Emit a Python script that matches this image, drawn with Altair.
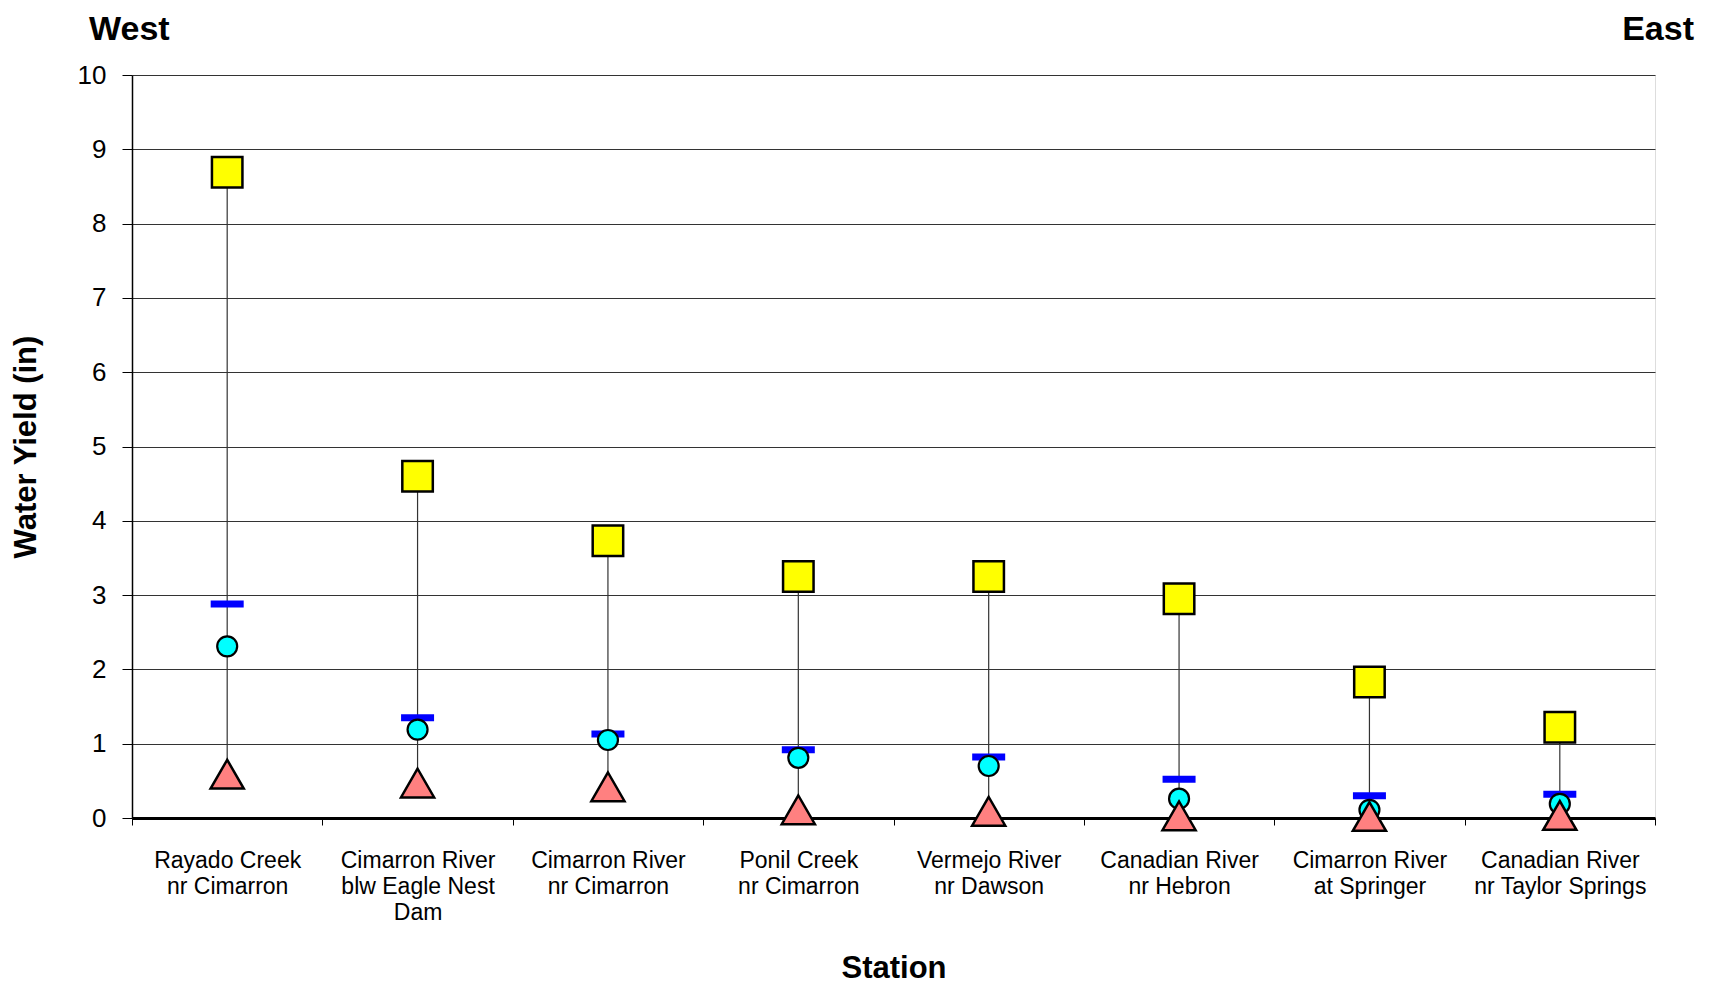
import altair as alt
import pandas as pd

stations = [
    "Rayado Creek|nr Cimarron",
    "Cimarron River|blw Eagle Nest|Dam",
    "Cimarron River|nr Cimarron",
    "Ponil Creek|nr Cimarron",
    "Vermejo River|nr Dawson",
    "Canadian River|nr Hebron",
    "Cimarron River|at Springer",
    "Canadian River|nr Taylor Springs",
]
max_yield = [8.69, 4.60, 3.73, 3.25, 3.25, 2.95, 1.83, 1.22]
mean_yield = [2.88, 1.35, 1.13, 0.92, 0.82, 0.52, 0.30, 0.32]
median_yield = [2.31, 1.19, 1.05, 0.81, 0.70, 0.26, 0.11, 0.19]
min_yield = [0.59, 0.47, 0.42, 0.11, 0.09, 0.03, 0.02, 0.035]
y_ticks = list(range(0, 11))
side_labels = ["West", "East"]

FONT = "Liberation Sans"

df = pd.DataFrame({
    "station": stations,
    "max": max_yield,
    "mean": mean_yield,
    "median": median_yield,
    "min": min_yield,
})

x_enc = alt.X(
    "station:N",
    sort=stations,
    scale=alt.Scale(paddingInner=0, paddingOuter=0),
    axis=alt.Axis(
        title="Station",
        labelAngle=0,
        labelExpr="split(datum.label, '|')",
        tickBand="extent",
        tickSize=7,
        labelPadding=24,
        labelFontSize=23,
        labelLineHeight=26,
        labelColor="black",
        labelFont=FONT,
        titleFont=FONT,
        titleFontSize=31,
        titleFontWeight="bold",
        titlePadding=29,
        titleColor="black",
        domainColor="black",
        domainWidth=3,
        tickColor="black",
        tickWidth=1,
        grid=False,
    ),
)

y_scale = alt.Scale(domain=[0, 10], nice=False)
y_axis = alt.Axis(
    title="Water Yield (in)",
    values=y_ticks,
    format="d",
    tickSize=10,
    labelPadding=16,
    labelFontSize=26,
    labelColor="black",
    labelFont=FONT,
    titleFont=FONT,
    titleFontSize=31,
    titleFontWeight="bold",
    titleColor="black",
    titlePadding=35,
    domainColor="black",
    domainWidth=1.5,
    tickColor="black",
    gridColor="#333333",
    gridWidth=1.2,
    grid=True,
)

base = alt.Chart(df)

rules = base.mark_rule(color="#333333", strokeWidth=1.2).encode(
    x=x_enc,
    y=alt.Y("min:Q", scale=y_scale, axis=y_axis),
    y2="max:Q",
)

ticks = base.mark_tick(color="#0000FF", thickness=7, size=33, orient="horizontal", opacity=1).encode(
    x=alt.X("station:N", sort=stations),
    y=alt.Y("mean:Q"),
)

circles = base.mark_point(
    shape="circle", filled=True, fill="#00FFFF", stroke="black", strokeWidth=2.2, size=400, opacity=1
).encode(x=alt.X("station:N", sort=stations), y=alt.Y("median:Q"))

triangles = base.mark_point(
    shape="triangle-up", filled=True, fill="#FF8080", stroke="black", strokeWidth=2.5, size=1100, opacity=1
).encode(x=alt.X("station:N", sort=stations), y=alt.Y("min:Q"))

squares = base.mark_point(
    shape="square", filled=True, fill="#FFFF00", stroke="black", strokeWidth=2.5, size=930, opacity=1
).encode(x=alt.X("station:N", sort=stations), y=alt.Y("max:Q"))

west = alt.Chart(pd.DataFrame({"label": [side_labels[0]]})).mark_text(
    font=FONT, fontSize=34, fontWeight="bold", align="left", baseline="middle", color="black"
).encode(text="label:N", x=alt.value(-43), y=alt.value(-45))

east = alt.Chart(pd.DataFrame({"label": [side_labels[1]]})).mark_text(
    font=FONT, fontSize=34, fontWeight="bold", align="right", baseline="middle", color="black"
).encode(text="label:N", x=alt.value(1562), y=alt.value(-45))

chart = (
    alt.layer(rules, ticks, circles, triangles, squares, west, east)
    .properties(
        width=1523,
        height=743,
        autosize=alt.AutoSizeParams(type="none"),
        padding={"left": 124, "top": 67, "right": 40, "bottom": 180},
    )
    .configure_view(stroke="black", strokeWidth=2)
    .configure(background="white")
)

chart.save("out.html", embed_options={"renderer": "svg", "actions": False})
